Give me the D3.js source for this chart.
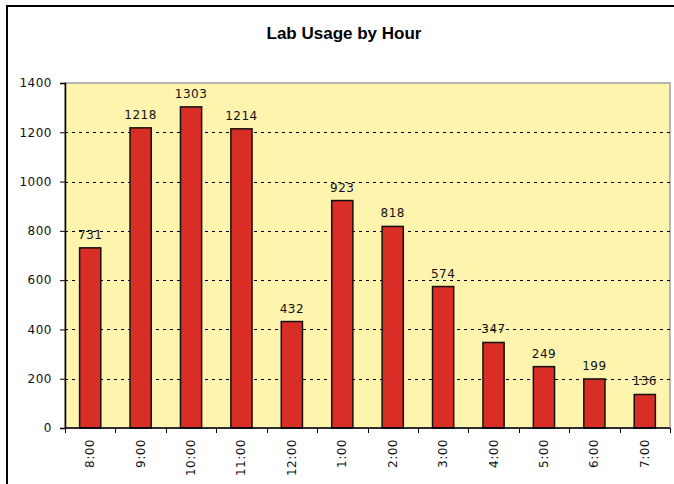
<!DOCTYPE html>
<html>
<head>
<meta charset="utf-8">
<script src="https://cdn.jsdelivr.net/npm/d3@7"></script>
<style>
  body { margin: 0; background: #fff; }
  svg { display: block; }
</style>
</head>
<body>
<svg width="674" height="484"></svg>
<script>
var hours = ["8:00", "9:00", "10:00", "11:00", "12:00", "1:00", "2:00", "3:00", "4:00", "5:00", "6:00", "7:00"];
var usage = [731, 1218, 1303, 1214, 432, 923, 818, 574, 347, 249, 199, 136];
var yTicks = [0, 200, 400, 600, 800, 1000, 1200, 1400];

var svg = d3.select("svg"),
    plotL = 65, plotR = 670, plotT = 83, plotB = 428;

// chart frame (only top and left show inside the window)
svg.append("rect")
    .attr("x", 7).attr("y", 6)
    .attr("width", 700).attr("height", 500)
    .attr("fill", "#fff")
    .attr("stroke", "#000")
    .attr("stroke-width", 2);

svg.append("text")
    .attr("x", 344).attr("y", 39)
    .attr("text-anchor", "middle")
    .style("font-family", "Liberation Sans, Arial, sans-serif")
    .style("font-weight", "bold")
    .style("font-size", "17px")
    .text("Lab Usage by Hour");

var x = d3.scaleBand().domain(hours).range([plotL, plotR]).paddingInner(0.58).paddingOuter(0.29);
var band = d3.scaleBand().domain(hours).range([plotL, plotR]);
var y = d3.scaleLinear().domain([0, 1400]).range([plotB, plotT]);

function labelStyle(sel) {
  sel.style("font-family", "DejaVu Sans, Verdana, sans-serif")
     .style("font-size", "12px")
     .style("letter-spacing", "0.5px")
     .style("fill", "#111");
}

// plot area
svg.append("rect")
    .attr("x", plotL).attr("y", plotT)
    .attr("width", plotR - plotL).attr("height", plotB - plotT)
    .attr("fill", "#fff4ae")
    .attr("stroke", "#a0a0a0")
    .attr("stroke-width", 1.5);

// gridlines
svg.append("g").selectAll("line")
    .data(yTicks.filter(function(d) { return d > 0 && d < 1400; }))
    .enter().append("line")
    .attr("x1", plotL).attr("x2", plotR)
    .attr("y1", function(d) { return Math.round(y(d)) + 0.5; })
    .attr("y2", function(d) { return Math.round(y(d)) + 0.5; })
    .attr("stroke", "#000")
    .attr("stroke-dasharray", "3,4");

// bars
svg.append("g").selectAll("rect")
    .data(usage)
    .enter().append("rect")
    .attr("x", function(d, i) { return x(hours[i]); })
    .attr("y", function(d) { return y(d); })
    .attr("width", x.bandwidth())
    .attr("height", function(d) { return plotB - y(d); })
    .attr("fill", "#d92e26")
    .attr("stroke", "#111")
    .attr("stroke-width", 1.5);

// value labels
svg.append("g").selectAll("text")
    .data(usage)
    .enter().append("text")
    .attr("x", function(d, i) { return x(hours[i]) + x.bandwidth() / 2; })
    .attr("y", function(d) { return y(d) - 9; })
    .attr("text-anchor", "middle")
    .call(labelStyle)
    .text(function(d) { return d; });

// y axis
var yAxis = svg.append("g")
    .attr("transform", "translate(" + plotL + ",0)")
    .call(d3.axisLeft(y).tickValues(yTicks).tickFormat(d3.format("d")).tickSize(5).tickPadding(8));
yAxis.select(".domain").attr("stroke", "#000").attr("stroke-width", 1.5);
yAxis.selectAll("text").call(labelStyle);

// x axis: ticks at category boundaries
var xg = svg.append("g");
xg.append("line")
    .attr("x1", plotL).attr("x2", plotR)
    .attr("y1", plotB).attr("y2", plotB)
    .attr("stroke", "#000").attr("stroke-width", 1.5);
xg.selectAll("line.tick")
    .data(hours.concat(["end"]))
    .enter().append("line")
    .attr("class", "tick")
    .attr("x1", function(d, i) { return Math.round(plotL + i * band.bandwidth()) + 0.5; })
    .attr("x2", function(d, i) { return Math.round(plotL + i * band.bandwidth()) + 0.5; })
    .attr("y1", plotB).attr("y2", plotB + 5)
    .attr("stroke", "#000");
xg.selectAll("text")
    .data(hours)
    .enter().append("text")
    .attr("transform", function(d) {
      return "translate(" + (band(d) + band.bandwidth() / 2 + 4) + "," + (plotB + 11) + ") rotate(-90)";
    })
    .attr("text-anchor", "end")
    .call(labelStyle)
    .text(function(d) { return d; });
</script>
</body>
</html>
